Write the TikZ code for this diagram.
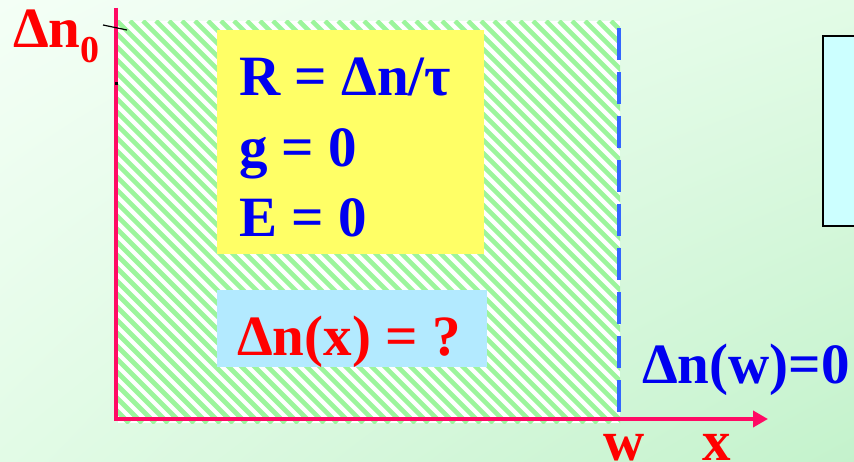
\documentclass[tikz,border=0pt]{standalone}
\usepackage{fontspec}
\setmainfont{Liberation Serif}
\usetikzlibrary{arrows.meta,shadings}
\definecolor{bgA}{HTML}{F4FFF6}
\definecolor{bgB}{HTML}{E2FBE6}
\definecolor{bgC}{HTML}{C4F2CC}
\definecolor{axiscol}{HTML}{FF0A64}
\definecolor{dashcol}{HTML}{3366FF}
\definecolor{stripecol}{HTML}{9CF59C}
\definecolor{yellowbox}{HTML}{FFFF66}
\definecolor{bluebox}{HTML}{B3EAFF}
\definecolor{cyanbox}{HTML}{CCFFFF}
\definecolor{txtred}{HTML}{FF0000}
\definecolor{txtblue}{HTML}{0000F0}
\tikzset{
  big/.style={inner sep=0pt, anchor=base west, font=\fontsize{57}{68}\selectfont\bfseries},
  axisline/.style={draw=axiscol, line width=4pt},
  bline/.style={draw=dashcol, line width=3.6pt, dash pattern=on 32pt off 12pt},
}
\begin{document}
\begin{tikzpicture}[x=1pt,y=-1pt]
\useasboundingbox (0,0) rectangle (854,462);
% background
\shade[upper left=bgA, upper right=bgB, lower left=bgB, lower right=bgC] (0,0) rectangle (854,462);
% hatched region
\fill[white] (118,21) rectangle (620,423);
\begin{scope}
\clip (118,21) rectangle (620,423);
\foreach \i in {-416,-403,...,520}
  \draw[stripecol, line width=4.6pt] (117+\i,21) -- (519+\i,423);
\end{scope}
% boxes
\fill[yellowbox] (217,30) rectangle (484,254);
\fill[bluebox] (217,290) rectangle (487,367);
\draw[fill=cyanbox, line width=2pt] (823,36) rectangle (870,226);
% dashed boundary
\coordinate (dtop) at (619,28);
\coordinate (dbot) at (619,414);
\draw[bline] (dtop) -- (dbot);
% axes
\coordinate (o) at (116,419);
\coordinate (ytop) at (116,8);
\coordinate (xend) at (768,419);
\draw[axisline] (ytop) -- (o);
\draw[axisline, -{Triangle[length=15pt,width=16pt]}] ([xshift=-2pt]o) -- (xend);
% tick and dot
\coordinate (t1) at (103,25);
\coordinate (t2) at (127,30);
\draw[line width=1.2pt] (t1) -- (t2);
\fill (115,82) rectangle (118,85);
% texts
\node[big, text=txtred] (dn0) at (13,48) {Δn\raisebox{-15pt}{\fontsize{38}{40}\selectfont 0}};
\node[big, text=txtblue] (r1) at (239,96) {R = Δn/τ};
\node[big, text=txtblue] (r2) at (239,167) {g = 0};
\node[big, text=txtblue] (r3) at (239,237) {E = 0};
\node[big, text=txtred] (q) at (237,355) {Δn(x) = ?};
\node[big, text=txtblue] (dnw) at (642,383) {Δn(w)=0};
\node[big, text=txtred] (w) at (603,460) {w};
\node[big, text=txtred] (xl) at (702,460) {x};
\end{tikzpicture}
\end{document}
